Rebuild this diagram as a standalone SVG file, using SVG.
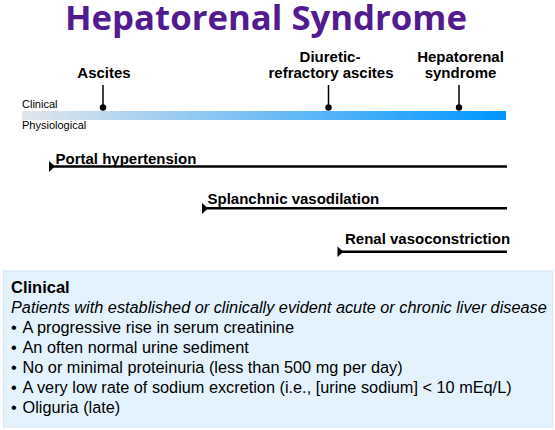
<svg xmlns="http://www.w3.org/2000/svg" width="555" height="430" viewBox="0 0 555 430">
<defs>
<linearGradient id="bar" x1="0" y1="0" x2="1" y2="0">
<stop offset="0" stop-color="#e3e6eb"/>
<stop offset="1" stop-color="#0096ff"/>
</linearGradient>
</defs>
<style>
.lbl{font-family:"Liberation Sans",Arial,sans-serif;font-weight:bold;font-size:15px;fill:#000}
.small{font-family:"Liberation Sans",Arial,sans-serif;font-size:11px;fill:#000}
.body{font-family:"Liberation Sans",Arial,sans-serif;font-size:16.3px;fill:#000}
.stem{stroke:#000;stroke-width:1.5;fill:none}
.phys{stroke:#000;stroke-width:2.6;fill:none}
.dot{fill:#000}
</style>
<rect width="555" height="430" fill="#fff"/>
<g id="title">
<text x="65" y="30" textLength="402" lengthAdjust="spacingAndGlyphs" style="font-family:'Open Sans','Liberation Sans',sans-serif;font-weight:bold;font-size:34px;fill:#521b8f">Hepatorenal Syndrome</text>
</g>
<g id="timeline">
<rect x="22" y="111" width="484" height="9" fill="url(#bar)"/>
<text class="small" x="22" y="108">Clinical</text>
<text class="small" x="22" y="129">Physiological</text>
</g>
<g id="connectors">
<line class="stem" x1="103" y1="85" x2="103" y2="107"/>
<line class="stem" x1="328.5" y1="85" x2="328.5" y2="107"/>
<line class="stem" x1="459" y1="85" x2="459" y2="107"/>
<line class="phys" x1="50" y1="166.5" x2="507" y2="166.5"/>
<polygon points="49,161 49,172 55,166.5" fill="#000"/>
<line class="phys" x1="203" y1="208.3" x2="507" y2="208.3"/>
<polygon points="202,203 202,214 208,208.3" fill="#000"/>
<line class="phys" x1="338" y1="251.7" x2="507" y2="251.7"/>
<polygon points="337.5,246.5 337.5,257 343.5,251.7" fill="#000"/>
</g>
<g id="ascites">
<circle class="dot" cx="103" cy="107.5" r="3.2"/>
<text class="lbl" x="104" y="78" text-anchor="middle">Ascites</text>
</g>
<g id="diuretic-refractory">
<circle class="dot" cx="328.5" cy="107.5" r="3.2"/>
<text class="lbl" x="330" y="61.5" text-anchor="middle">Diuretic-</text>
<text class="lbl" x="331" y="78" text-anchor="middle">refractory ascites</text>
</g>
<g id="hepatorenal">
<circle class="dot" cx="459" cy="107.5" r="3.2"/>
<text class="lbl" x="460.5" y="61.5" text-anchor="middle">Hepatorenal</text>
<text class="lbl" x="460.5" y="78" text-anchor="middle">syndrome</text>
</g>
<g id="portal">
<text class="lbl" x="55.5" y="164">Portal hypertension</text>
</g>
<g id="splanchnic">
<text class="lbl" x="207.5" y="204">Splanchnic vasodilation</text>
</g>
<g id="renal">
<text class="lbl" x="345" y="244.3">Renal vasoconstriction</text>
</g>
<g id="clinical-box">
<rect x="3.5" y="271" width="549" height="156" fill="#e4f2fd" stroke="#d3e6f6" stroke-width="1"/>
<text x="11" y="293.3" style="font-family:'Liberation Sans',Arial,sans-serif;font-weight:bold;font-size:16.5px;fill:#000">Clinical</text>
<text class="body" x="11" y="313.3" font-style="italic">Patients with established or clinically evident acute or chronic liver disease</text>
<text class="body" x="11" y="333.3">•<tspan x="22.5">A progressive rise in serum creatinine</tspan></text>
<text class="body" x="11" y="353.3">•<tspan x="22.5">An often normal urine sediment</tspan></text>
<text class="body" x="11" y="373.3">•<tspan x="22.5">No or minimal proteinuria (less than 500 mg per day)</tspan></text>
<text class="body" x="11" y="393.3">•<tspan x="22.5">A very low rate of sodium excretion (i.e., [urine sodium] &lt; 10 mEq/L)</tspan></text>
<text class="body" x="11" y="413.3">•<tspan x="22.5">Oliguria (late)</tspan></text>
</g>
</svg>
